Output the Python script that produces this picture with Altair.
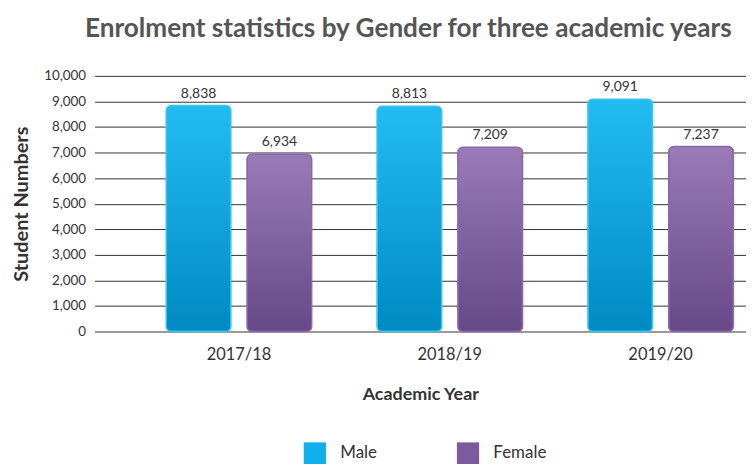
import altair as alt
import pandas as pd

years = ["2017/18", "2018/19", "2019/20"]
male = [8838, 8813, 9091]
female = [6934, 7209, 7237]
genders = ["Male", "Female"]
y_ticks = [0, 1000, 2000, 3000, 4000, 5000, 6000, 7000, 8000, 9000, 10000]

rows = []
for i, y in enumerate(years):
    rows.append({"year": y, "gender": "Male", "value": male[i]})
    rows.append({"year": y, "gender": "Female", "value": female[i]})
df = pd.DataFrame(rows)

FONT = "Lato"
TXT = "#333333"

x_enc = alt.X("year:N", sort=years,
              scale=alt.Scale(paddingInner=0.31, paddingOuter=0.2, align=0.85),
              axis=alt.Axis(title="Academic Year", labelAngle=0, labelFontSize=16.5,
                            labelColor=TXT, labelPadding=15, ticks=False, domain=False,
                            titleFontSize=18, titleFontWeight="bold", titleColor=TXT,
                            titlePadding=23, labelFont=FONT, titleFont=FONT))
xoff = alt.XOffset("gender:N", sort=genders, scale=alt.Scale(paddingInner=0.2, paddingOuter=0))
y_enc = alt.Y("value:Q", scale=alt.Scale(domain=[0, 10000]),
              axis=alt.Axis(title="Student Numbers", values=y_ticks, format=",d",
                            labelFontSize=13.5, labelColor=TXT, labelPadding=9,
                            ticks=False, domain=False, gridColor="#333333",
                            gridWidth=1, gridOpacity=1,
                            titleFontSize=20, titleFontWeight="bold", titleColor=TXT,
                            titlePadding=12, labelFont=FONT, titleFont=FONT))

base = alt.Chart(df)

legend_bars = base.mark_bar(cornerRadius=5).encode(
    x=x_enc, xOffset=xoff, y=y_enc,
    color=alt.Color("gender:N", sort=genders,
                    scale=alt.Scale(domain=genders, range=["#0FB0EC", "#7C5A9E"]),
                    legend=alt.Legend(title=None, orient="none", direction="horizontal",
                                      legendX=210, legendY=368,
                                      symbolType="square", symbolSize=500,
                                      symbolStrokeWidth=0,
                                      labelFontSize=17, labelColor=TXT, labelFont=FONT,
                                      columnPadding=80, labelOffset=14)),
)

def grad_layer(g, top, bottom, stroke):
    return base.transform_filter(alt.datum.gender == g).mark_bar(
        cornerRadius=5,
        color=alt.Gradient(gradient="linear",
                           stops=[alt.GradientStop(color=top, offset=0),
                                  alt.GradientStop(color=bottom, offset=1)],
                           x1=0, x2=0, y1=0, y2=1),
        stroke=stroke, strokeWidth=1.5,
    ).encode(x=x_enc, xOffset=xoff, y=y_enc)

male_bars = grad_layer("Male", "#22BCF1", "#008AC2", "#3CC4F2")
female_bars = grad_layer("Female", "#9A7BB8", "#674888", "#8A68AA")

labels = base.mark_text(dy=-12, fontSize=14, color=TXT, font=FONT).encode(
    x=x_enc, xOffset=xoff, y=y_enc,
    text=alt.Text("value:Q", format=",d"),
)

chart = alt.layer(legend_bars, male_bars, female_bars, labels).properties(
    width=655, height=257,
    padding={"left": 3, "top": 6, "right": 0, "bottom": 5},
    title=alt.TitleParams("Enrolment statistics by Gender for three academic years",
                          fontSize=26.3, fontWeight="bold", color="#555555", font=FONT,
                          offset=27, dx=-12),
).configure_view(stroke=None)

chart.save("out.html", embed_options={"renderer": "svg", "actions": False})
